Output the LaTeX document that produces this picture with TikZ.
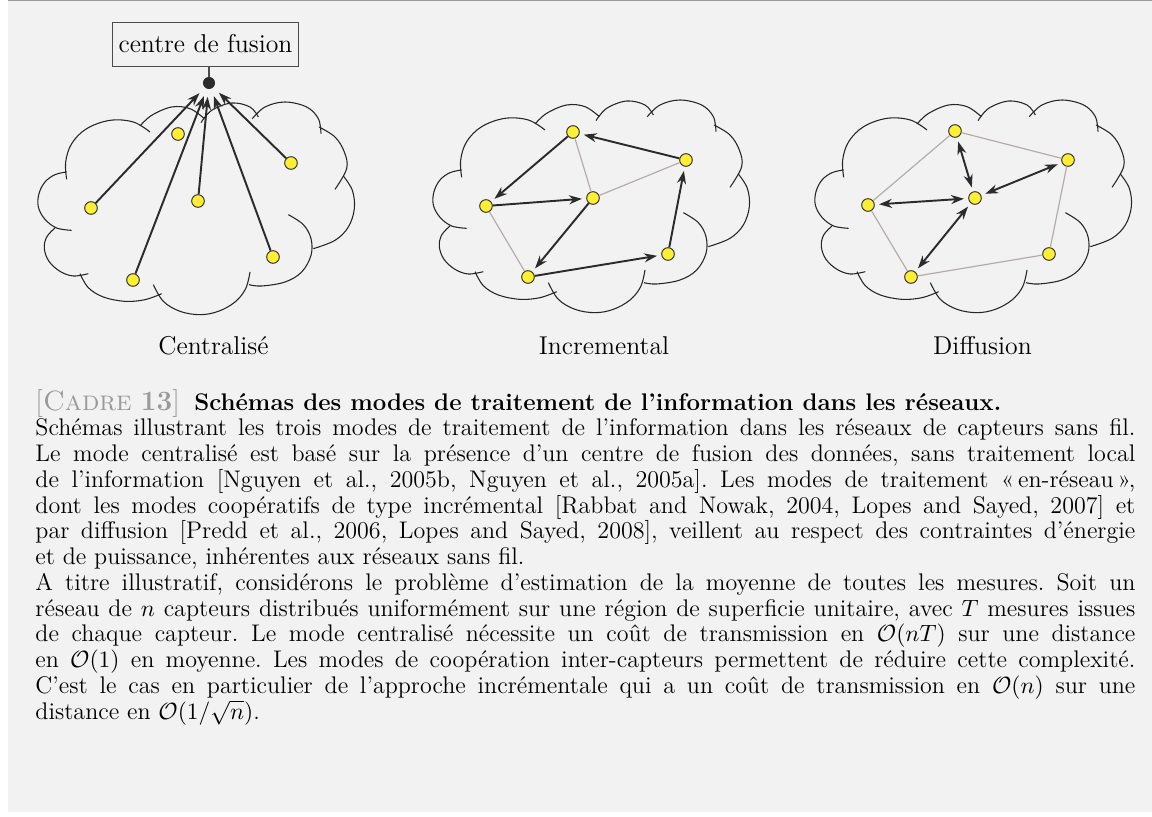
\documentclass[tikz,border=0pt]{standalone}
\usepackage{fontspec}
\usepackage{amsmath}
\usepackage{amssymb}
\usetikzlibrary{arrows.meta}

\definecolor{fond}{HTML}{F2F2F2}
\definecolor{capteur}{HTML}{FFEE33}
\definecolor{fleche}{HTML}{2B2B2B}
\definecolor{lien}{HTML}{B4ACA8}
\definecolor{cadregris}{HTML}{9A9A9A}

\tikzset{
  capt/.style={circle, draw=black!80, fill=capteur, line width=0.45pt, minimum size=5.9pt, inner sep=0pt},
  fl/.style={draw=fleche, line width=0.9pt, -{Stealth[length=6pt,width=4.2pt]}, shorten >=2pt},
  dfl/.style={draw=fleche, line width=0.9pt, {Stealth[length=6pt,width=4.2pt]}-{Stealth[length=6pt,width=4.2pt]}, shorten >=2pt, shorten <=2pt},
  lien/.style={draw=lien, line width=0.55pt},
  titre/.style={font=\large, anchor=base},
  nuage/.pic={
    \begin{scope}[scale=1/3, line width=0.5pt, black!85]
      \draw plot[smooth, tension=0.6] coordinates {(185,232) (182,180) (200,125) (245,80) (315,55) (385,60) (435,90)};
      \draw plot[smooth, tension=0.6] coordinates {(405,72) (440,40) (500,15) (555,20) (598,50)};
      \draw plot[smooth, tension=0.6] coordinates {(588,62) (620,25) (680,3) (735,15) (760,45)};
      \draw plot[smooth, tension=0.6] coordinates {(742,50) (780,15) (840,0) (905,15) (940,50) (948,95)};
      \draw plot[smooth, tension=0.6] coordinates {(942,75) (990,105) (1018,150) (1025,200) (990,262)};
      \draw plot[smooth, tension=0.6] coordinates {(1015,222) (1042,265) (1048,320) (1030,375) (990,415) (925,440)};
      \draw plot[smooth, tension=0.6] coordinates {(850,338) (895,368) (918,410) (918,460) (890,510) (840,540) (770,552) (732,548)};
      \draw plot[smooth, tension=0.6] coordinates {(735,510) (722,560) (690,600) (640,628) (585,638) (525,628) (475,598) (445,548)};
      \draw plot[smooth, tension=0.6] coordinates {(470,575) (420,593) (360,598) (295,585) (250,557) (225,515)};
      \draw plot[smooth, tension=0.6] coordinates {(250,515) (205,522) (165,508) (132,478) (118,440) (125,405) (150,378)};
      \draw plot[smooth, tension=0.6] coordinates {(200,385) (155,378) (120,352) (100,315) (102,275) (120,240) (150,218) (185,210)};
    \end{scope}
  }
}

\begin{document}
\begin{tikzpicture}[x=0.466pt, y=-0.466pt]
  \useasboundingbox (0,0) rectangle (1152,817);
  \fill[white] (0,0) rectangle (1152,817);
  \fill[fond] (8,0) rectangle (1152,812);
  \draw[cadregris, line width=0.7pt] (8,0.7) -- (1152,0.7);

  % les trois nuages
  \pic at (5,102) {nuage};
  \pic at (400,100) {nuage};
  \pic at (782,100) {nuage};

  % centralise
  \node[draw=black!70, fill=fond, font=\large, inner sep=3pt, minimum height=20.5pt] (boite) at (205.5,44) {centre de fusion};
  \node[circle, fill=fleche, minimum size=5.6pt, inner sep=0pt] (fus) at (209,83) {};
  \draw[black!70, line width=0.5pt] (boite.south -| fus) -- (fus);
  \node[capt] (c1a) at (178,134) {};
  \node[capt] (c1b) at (291,163) {};
  \node[capt] (c1c) at (91,208) {};
  \node[capt] (c1d) at (198,201) {};
  \node[capt] (c1e) at (273,257) {};
  \node[capt] (c1f) at (133,280) {};
  \foreach \n in {c1b,c1c,c1d,c1e,c1f}
    \draw[fl, shorten >=3.5pt] (\n) -- (fus);

  % incremental
  \node[capt] (it) at (573,132) {};
  \node[capt] (ir) at (686,160) {};
  \node[capt] (il) at (486,206) {};
  \node[capt] (ic) at (593,198) {};
  \node[capt] (ilr) at (668,254) {};
  \node[capt] (ib) at (528,277) {};
  \draw[lien] (it) -- (ic);
  \draw[lien] (ic) -- (ir);
  \draw[lien] (il) -- (ib);
  \draw[fl] (ir) -- (it);
  \draw[fl] (it) -- (il);
  \draw[fl] (il) -- (ic);
  \draw[fl] (ic) -- (ib);
  \draw[fl] (ib) -- (ilr);
  \draw[fl] (ilr) -- (ir);

  % diffusion
  \node[capt] (dt) at (955,131) {};
  \node[capt] (dr) at (1068,160) {};
  \node[capt] (dl) at (868,205) {};
  \node[capt] (dc) at (975,198) {};
  \node[capt] (dlr) at (1049,254) {};
  \node[capt] (db) at (911,277) {};
  \draw[lien] (dt) -- (dl);
  \draw[lien] (dt) -- (dr);
  \draw[lien] (dl) -- (db);
  \draw[lien] (db) -- (dlr);
  \draw[lien] (dlr) -- (dr);
  \foreach \n in {dt,dr,dl,db}
    \draw[dfl] (dc) -- (\n);

  \node[titre] (lcent) at (213.5,355) {Centralisé};
  \node[titre] (lincr) at (604,355) {Incremental};
  \node[titre] (ldiff) at (982.5,355) {Diffusion};

  % legende
  \node[anchor=base west, text width=512.6pt, align=justify, inner sep=0pt,
        font=\fontsize{11.2}{12}\selectfont\frenchspacing] (legende) at (35,410) {%
    {\fontsize{13}{12}\selectfont\color{cadregris}[\textsc{Cadre} \textbf{13}]}\hspace{0.6em}\textbf{Schémas des modes de traitement de l'information dans les réseaux.}\par
    Schémas illustrant les trois modes de traitement de l'information dans les réseaux de capteurs sans fil.\linebreak
    Le mode centralisé est basé sur la présence d'un centre de fusion des données, sans traitement local\linebreak
    de l'information [Nguyen et al., 2005b, Nguyen et al., 2005a]. Les modes de traitement «\,en-réseau\,»,\linebreak
    dont les modes coopératifs de type incrémental [Rabbat and Nowak, 2004, Lopes and Sayed, 2007] et\linebreak
    par diffusion [Predd et al., 2006, Lopes and Sayed, 2008], veillent au respect des contraintes d'énergie\linebreak
    et de puissance, inhérentes aux réseaux sans fil.\par
    A titre illustratif, considérons le problème d'estimation de la moyenne de toutes les mesures. Soit un\linebreak
    réseau de $n$ capteurs distribués uniformément sur une région de superficie unitaire, avec $T$ mesures issues\linebreak
    de chaque capteur. Le mode centralisé nécessite un coût de transmission en $\mathcal{O}(nT)$ sur une distance\linebreak
    en $\mathcal{O}(1)$ en moyenne. Les modes de coopération inter-capteurs permettent de réduire cette complexité.\linebreak
    C'est le cas en particulier de l'approche incrémentale qui a un coût de transmission en $\mathcal{O}(n)$ sur une\linebreak
    distance en $\mathcal{O}(1/\sqrt{n})$.};
\end{tikzpicture}
\end{document}
